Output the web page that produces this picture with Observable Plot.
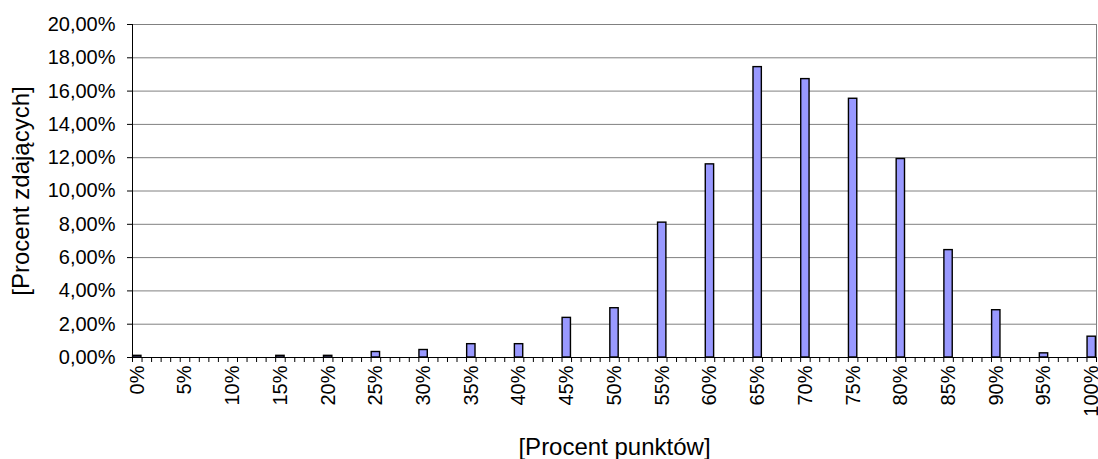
<!DOCTYPE html>
<html>
<head>
<meta charset="utf-8">
<script src="https://cdn.jsdelivr.net/npm/d3@7"></script>
<script src="https://cdn.jsdelivr.net/npm/@observablehq/plot@0.6"></script>
<style>
  body { margin: 0; background: white; }
  #chart svg { display: block; }
</style>
</head>
<body>
<div id="chart"></div>
<script>
// Rozklad wynikow: procent punktow -> procent zdajacych
const punkty = [0, 5, 10, 15, 20, 25, 30, 35, 40, 45, 50, 55, 60, 65, 70, 75, 80, 85, 90, 95, 100]
const zdajacy = [0.1, 0, 0, 0.1, 0.1, 0.33, 0.45, 0.8, 0.8, 2.38, 2.96, 8.1, 11.6, 17.44, 16.72, 15.54, 11.92, 6.45, 2.84, 0.25, 1.25]
const yTicks = [0, 2, 4, 6, 8, 10, 12, 14, 16, 18, 20]

const data = punkty.map((p, i) => ({p, v: zdajacy[i]}))

// kategorie co 1% (0..100), kreski osi na granicach kategorii
const granice = d3.range(0, 102)

let chart = Plot.plot({
  width: 1098,
  height: 459,
  marginLeft: 132,
  marginRight: 2,
  marginTop: 24,
  marginBottom: 102,
  style: {fontFamily: "'Liberation Sans', Arial, sans-serif", background: "white"},
  x: {domain: [0, 101]},
  y: {domain: [0, 20]},
  marks: [
    Plot.gridY(yTicks, {stroke: "#808080", strokeOpacity: 1}),
    Plot.frame({stroke: "#808080"}),
    Plot.rectY(data, {
      x1: "p", x2: d => d.p + 1, y: "v",
      fill: "#9999ff", stroke: "black", strokeWidth: 1.4,
      insetLeft: 0.6, insetRight: 0.6
    }),
    Plot.ruleY([0], {stroke: "black"}),
    Plot.ruleX([0], {stroke: "black"}),
    Plot.axisY({
      ticks: yTicks, tickSize: 5, tickPadding: 12, fontSize: 20, label: null,
      tickFormat: d => d.toFixed(2).replace(".", ",") + "%"
    }),
    Plot.axisX({ticks: granice, tickSize: 5, tickFormat: () => "", label: null}),
    Plot.text(punkty, {
      x: d => d + 0.5, y: 0, text: d => d + "%",
      rotate: -90, textAnchor: "end", dy: 8, fontSize: 20, fill: "black"
    }),
    Plot.text(["[Procent punktów]"], {
      frameAnchor: "bottom", dy: 97, fontSize: 24, fill: "black"
    }),
    Plot.text(["[Procent zdających]"], {
      frameAnchor: "left", textAnchor: "middle", dx: -111, rotate: -90,
      fontSize: 24, fill: "black"
    })
  ]
})

d3.select('#chart').append(() => chart)
</script>
</body>
</html>
